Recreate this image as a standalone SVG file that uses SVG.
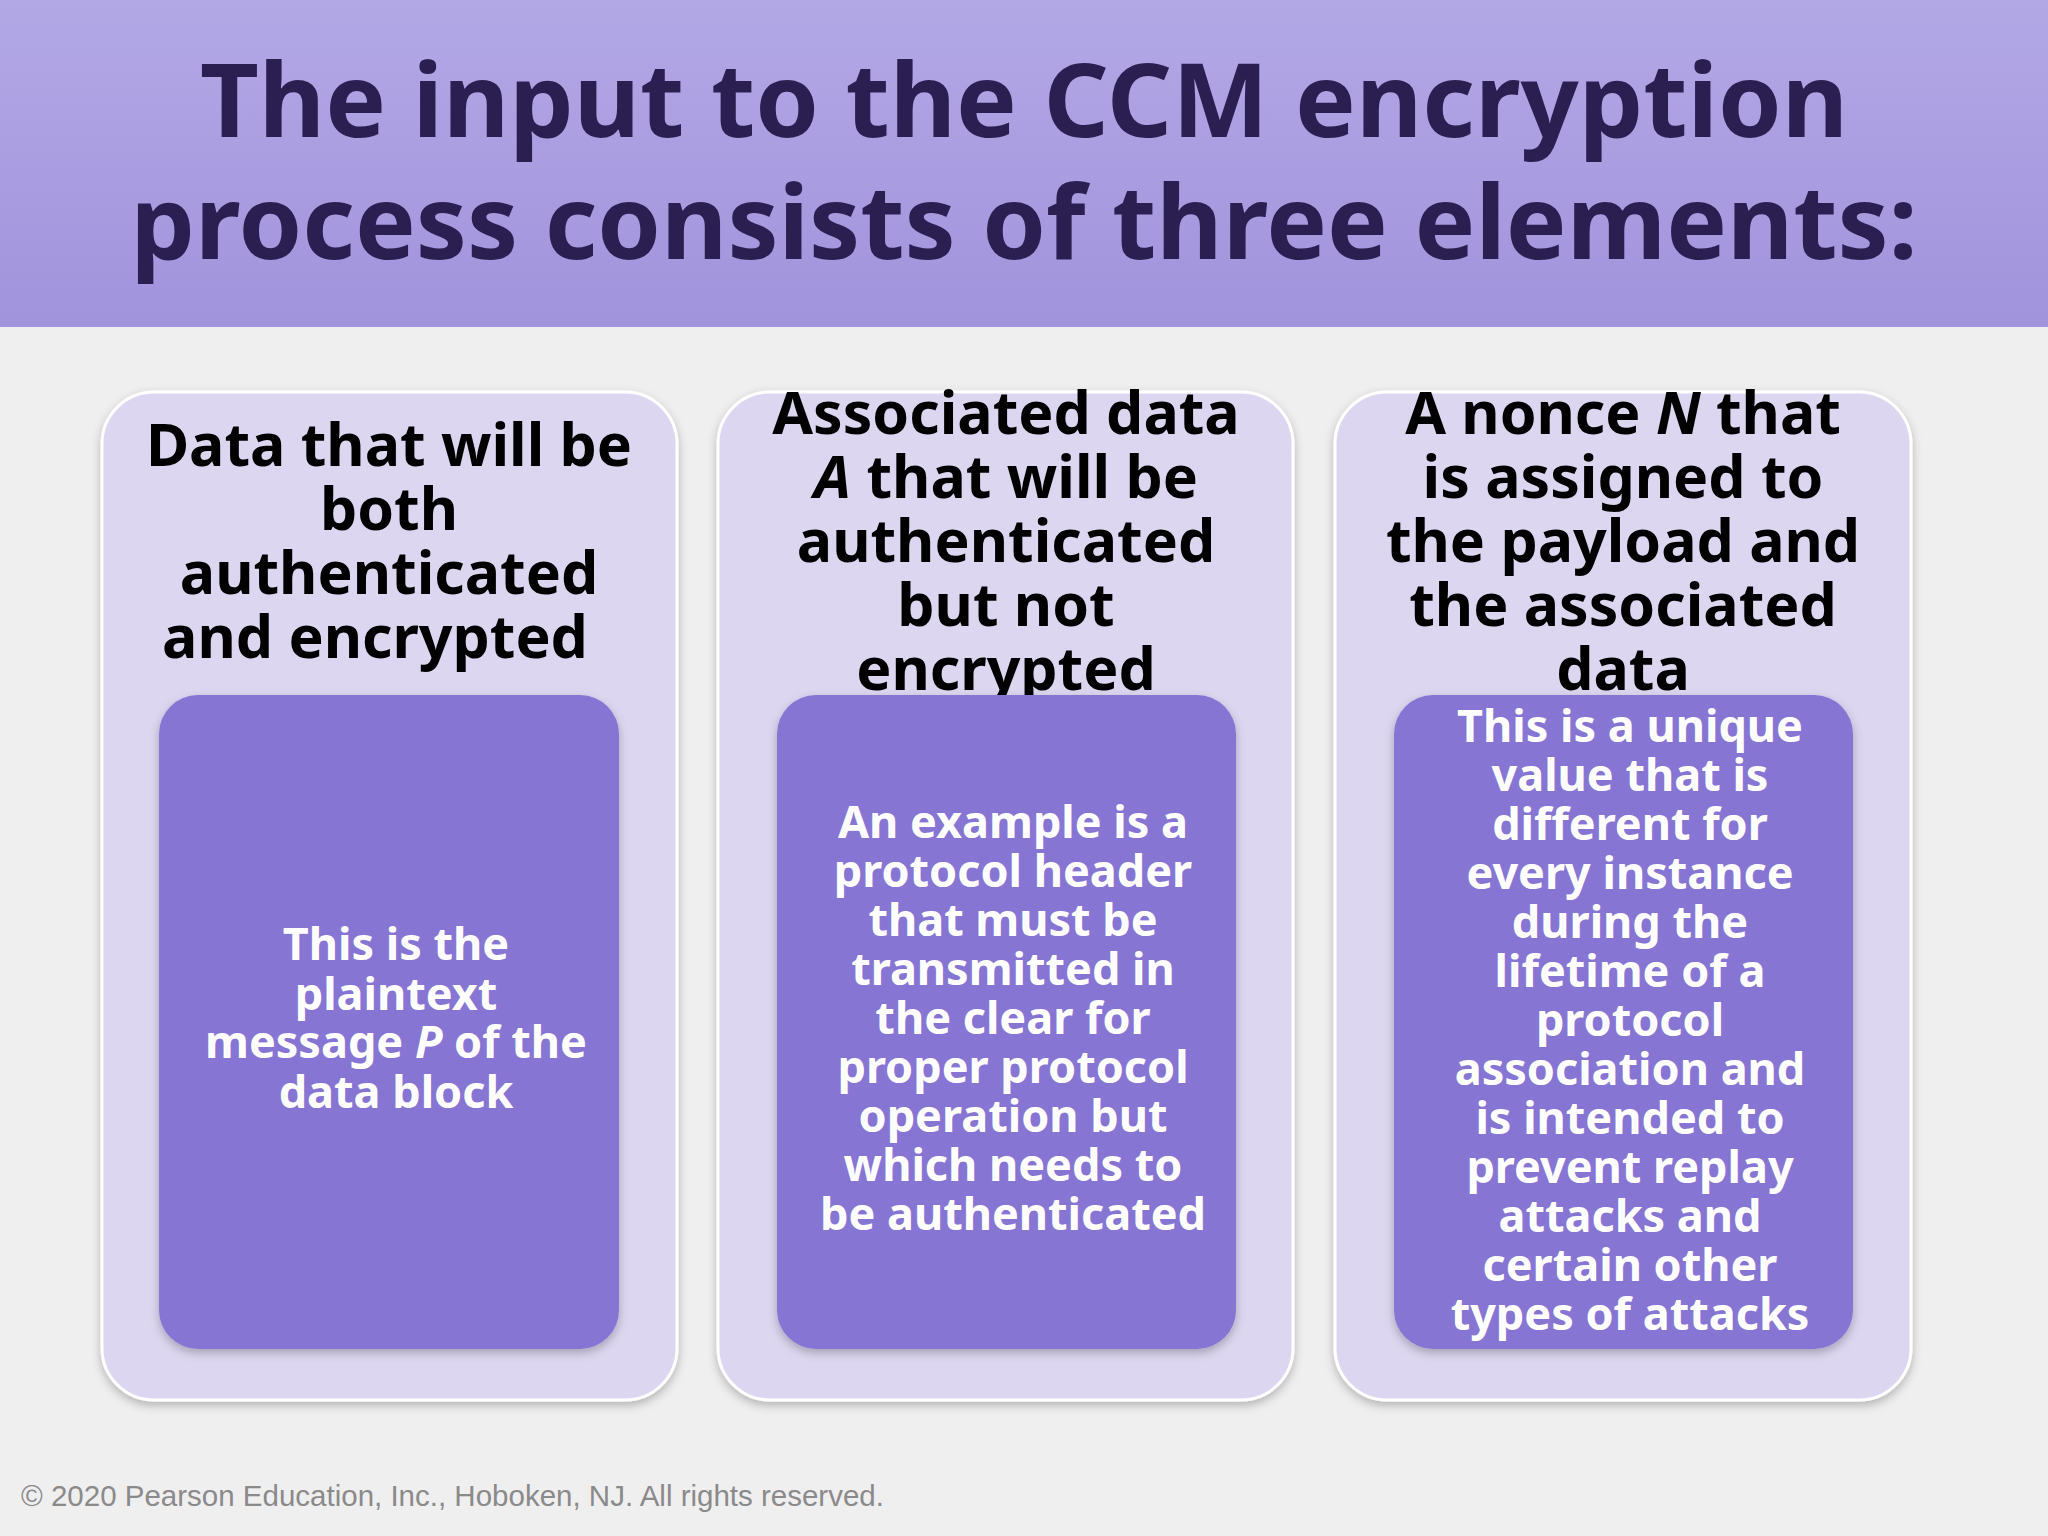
<svg xmlns="http://www.w3.org/2000/svg" width="2048" height="1536" viewBox="0 0 2048 1536">
<defs>
<linearGradient id="hd" x1="0" y1="0" x2="0" y2="1"><stop offset="0" stop-color="#b3a8e6"/><stop offset="1" stop-color="#a193dc"/></linearGradient>
<filter id="sh" x="-10%" y="-10%" width="120%" height="120%"><feDropShadow dx="0" dy="4" stdDeviation="5" flood-color="#000" flood-opacity="0.25"/></filter>
</defs>
<style>
.t{font-family:"Noto Sans","Open Sans",sans-serif;font-weight:bold;text-anchor:middle}
.title{font-size:102px;fill:#2a1f50}
.hd{font-size:59px;fill:#000}
.in{font-size:45px;fill:#fff}
.card{fill:#dcd6f0;stroke:#fff;stroke-width:3}
.inner{fill:#8774d4}
</style>
<rect width="2048" height="1536" fill="#f0eff0"/>
<rect width="2048" height="327" fill="url(#hd)"/>
<text class="t title" x="1024" y="137">The input to the CCM encryption</text>
<text class="t title" x="1024" y="259">process consists of three elements:</text>
<g id="card1">
<rect class="card" x="102" y="392" width="575" height="1008" rx="52" filter="url(#sh)"/>
<text class="t hd"><tspan x="389" y="466">Data that will be</tspan><tspan x="389" y="530">both</tspan><tspan x="389" y="594">authenticated</tspan><tspan x="375" y="658">and encrypted</tspan></text>
<rect class="inner" x="159" y="695" width="460" height="654" rx="39" filter="url(#sh)"/>
<text class="t in"><tspan x="396" y="960">This is the</tspan><tspan x="396" y="1010">plaintext</tspan><tspan x="396" y="1058">message <tspan font-style="italic">P</tspan> of the</tspan><tspan x="396" y="1108">data block</tspan></text>
</g>
<g id="card2">
<rect class="card" x="718" y="392" width="575" height="1008" rx="52" filter="url(#sh)"/>
<text class="t hd"><tspan x="1006" y="434">Associated data</tspan><tspan x="1006" y="498"><tspan font-style="italic">A</tspan> that will be</tspan><tspan x="1006" y="562">authenticated</tspan><tspan x="1006" y="626">but not</tspan><tspan x="1006" y="690">encrypted</tspan></text>
<rect class="inner" x="777" y="695" width="459" height="654" rx="39" filter="url(#sh)"/>
<text class="t in"><tspan x="1013" y="838">An example is a</tspan><tspan x="1013" y="887">protocol header</tspan><tspan x="1013" y="936">that must be</tspan><tspan x="1013" y="985">transmitted in</tspan><tspan x="1013" y="1034">the clear for</tspan><tspan x="1013" y="1083">proper protocol</tspan><tspan x="1013" y="1132">operation but</tspan><tspan x="1013" y="1181">which needs to</tspan><tspan x="1013" y="1230">be authenticated</tspan></text>
</g>
<g id="card3">
<rect class="card" x="1335" y="392" width="576" height="1008" rx="52" filter="url(#sh)"/>
<text class="t hd"><tspan x="1623" y="434">A nonce <tspan font-style="italic">N</tspan> that</tspan><tspan x="1623" y="498">is assigned to</tspan><tspan x="1623" y="562">the payload and</tspan><tspan x="1623" y="626">the associated</tspan><tspan x="1623" y="690">data</tspan></text>
<rect class="inner" x="1394" y="695" width="459" height="654" rx="39" filter="url(#sh)"/>
<text class="t in"><tspan x="1630" y="742">This is a unique</tspan><tspan x="1630" y="791">value that is</tspan><tspan x="1630" y="840">different for</tspan><tspan x="1630" y="889">every instance</tspan><tspan x="1630" y="938">during the</tspan><tspan x="1630" y="987">lifetime of a</tspan><tspan x="1630" y="1036">protocol</tspan><tspan x="1630" y="1085">association and</tspan><tspan x="1630" y="1134">is intended to</tspan><tspan x="1630" y="1183">prevent replay</tspan><tspan x="1630" y="1232">attacks and</tspan><tspan x="1630" y="1281">certain other</tspan><tspan x="1630" y="1330">types of attacks</tspan></text>
</g>
<g id="connectors"/>
<text x="21" y="1506" font-family="Liberation Sans, sans-serif" font-size="29.5" fill="#8a8a8a">© 2020 Pearson Education, Inc., Hoboken, NJ. All rights reserved.</text>
</svg>
